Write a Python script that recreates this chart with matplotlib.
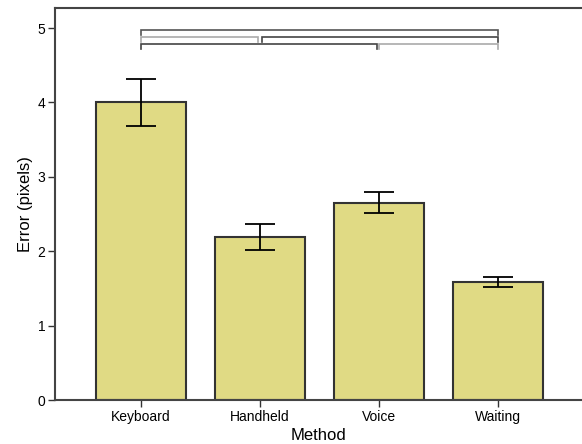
import matplotlib
matplotlib.use("Agg")
import matplotlib.pyplot as plt

categories = ["Keyboard", "Handheld", "Voice", "Waiting"]
means = [4.00, 2.19, 2.65, 1.59]
errors = [0.32, 0.17, 0.14, 0.07]

# brackets: (start index, end index, level, color)
bracket_starts = [0.0, 0.0, 1.02, 0.0, 2.0]
bracket_ends = [3.0, 0.98, 3.0, 1.98, 3.0]
bracket_levels = [4.97, 4.88, 4.88, 4.78, 4.78]
bracket_colors = ["#555555", "#aaaaaa", "#444444", "#444444", "#aaaaaa"]

plt.rcParams['font.family'] = ['Liberation Sans', 'DejaVu Sans']

fig = plt.figure(figsize=(5.82, 4.44), dpi=100)
ax = fig.add_axes([55/582, 1-400/444, 1-55/582, (400-8)/444])

x = list(range(len(categories)))
ax.bar(x, means, width=0.75, color="#e0da84", edgecolor="#333333", linewidth=1.5, zorder=2)
ax.errorbar(x, means, yerr=errors, fmt="none", ecolor="black", elinewidth=1.3,
            capsize=10.5, capthick=1.3, zorder=3)

tick_h = 0.065
for s, e, lv, c in zip(bracket_starts, bracket_ends, bracket_levels, bracket_colors):
    ax.plot([s, s, e, e], [lv - tick_h, lv, lv, lv - tick_h], color=c, lw=1.2,
            solid_joinstyle="miter", clip_on=False, zorder=4)

ax.set_xlim(-0.723, 3.706)
ax.set_ylim(0, 5.27)
ax.set_xticks(x)
ax.set_xticklabels(categories, fontsize=10)
ax.set_yticks([0, 1, 2, 3, 4, 5])
ax.set_yticklabels(["0", "1", "2", "3", "4", "5"], fontsize=10)
ax.tick_params(axis="both", direction="out", length=5, width=1, color="#333333", pad=2)
ax.set_xlabel("Method", fontsize=12, labelpad=3)
ax.set_ylabel("Error (pixels)", fontsize=12, labelpad=3)

for side in ["left", "bottom", "top"]:
    ax.spines[side].set_color("#444444")
    ax.spines[side].set_linewidth(1.5)
ax.spines["right"].set_visible(False)

fig.savefig("out.png", dpi=100)
